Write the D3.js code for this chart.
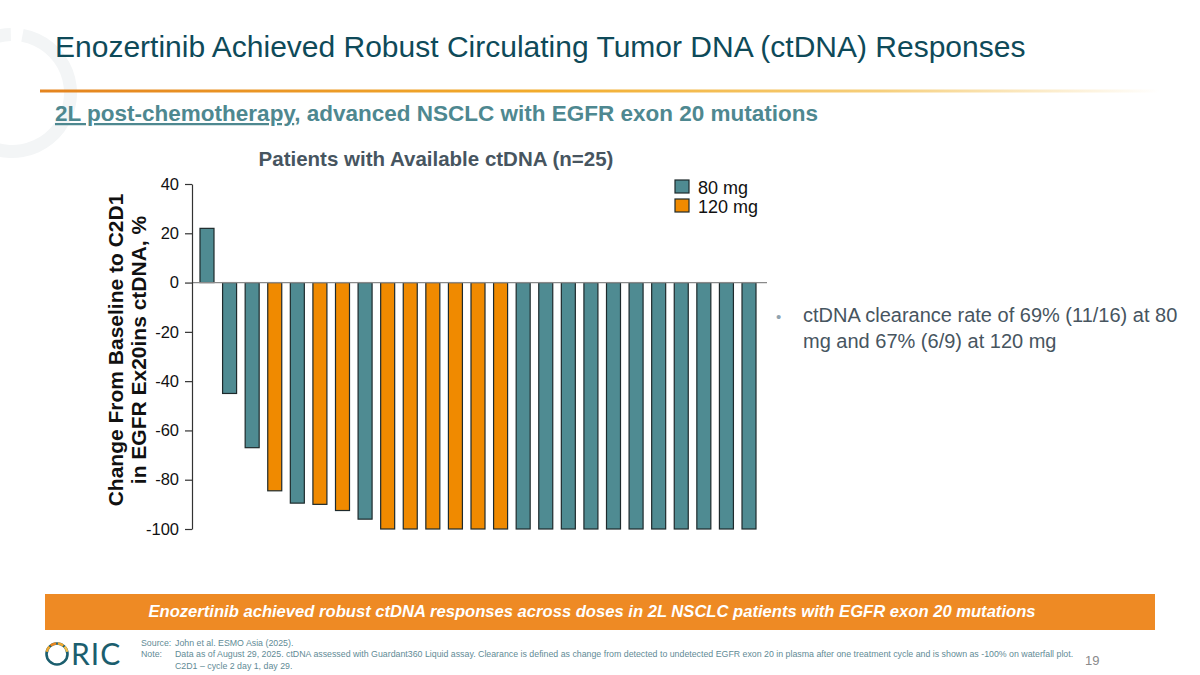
<!DOCTYPE html>
<html>
<head>
<meta charset="utf-8">
<script src="https://cdn.jsdelivr.net/npm/d3@7"></script>
<style>
  html, body { margin: 0; padding: 0; background: #fff; }
  svg { display: block; font-family: "Liberation Sans", Arial, sans-serif; }
</style>
</head>
<body>
<svg id="chart" width="1200" height="675"></svg>
<script>
// ---- Data ----
const patients = d3.range(1, 26).map(String);
const doses = ["80","80","80","120","80","120","120","80",
               "120","120","120","120","120","120",
               "80","80","80","80","80","80","80","80","80","80","80"];
const changes = [22, -45, -67, -84.5, -89.5, -90, -92.5, -96,
                 -100, -100, -100, -100, -100, -100,
                 -100, -100, -100, -100, -100, -100, -100, -100, -100, -100, -100];
const yTicks = [40, 20, 0, -20, -40, -60, -80, -100];
const legendLabels = ["80 mg", "120 mg"];
const doseKeys = ["80", "120"];

const svg = d3.select("#chart");

// background decorative ring
svg.append("path")
  .attr("d", d3.arc()({innerRadius: 52, outerRadius: 65, startAngle: 0.18, endAngle: Math.PI * 2 - 0.02}))
  .attr("transform", "translate(12,93)")
  .attr("fill", "#f3f5f6");

// Title
svg.append("text").attr("x", 55).attr("y", 57)
  .attr("font-size", 30).attr("fill", "#0e4a59")
  .text("Enozertinib Achieved Robust Circulating Tumor DNA (ctDNA) Responses");

// gradient rule
const defs = svg.append("defs");
const grad = defs.append("linearGradient").attr("id", "rule").attr("x1", "0").attr("x2", "1");
grad.append("stop").attr("offset", "0").attr("stop-color", "#e4841f");
grad.append("stop").attr("offset", "0.45").attr("stop-color", "#f2ac2c");
grad.append("stop").attr("offset", "0.75").attr("stop-color", "#f6cf7c");
grad.append("stop").attr("offset", "1").attr("stop-color", "#ffffff");
svg.append("rect").attr("x", 40).attr("y", 89.5).attr("width", 1120).attr("height", 3).attr("fill", "url(#rule)");

// Subtitle
const sub = svg.append("text").attr("x", 55).attr("y", 121)
  .attr("font-size", 22.5).attr("font-weight", "bold").attr("fill", "#4e8890");
sub.append("tspan").attr("text-decoration", "underline").text("2L post-chemotherapy");
sub.append("tspan").text(", advanced NSCLC with EGFR exon 20 mutations");

// Chart title
svg.append("text").attr("x", 436).attr("y", 166).attr("text-anchor", "middle")
  .attr("font-size", 20.5).attr("font-weight", "bold").attr("fill", "#47555f")
  .text("Patients with Available ctDNA (n=25)");

// Scales
const y = d3.scaleLinear().domain([-100, 40]).range([529, 184]);
const x = d3.scaleBand().domain(patients).range([192, 764]).paddingInner(0.38).paddingOuter(0.354);
const color = d3.scaleOrdinal().domain(doseKeys).range(["#4f8b92", "#f08a00"]);

// Bars
const g = svg.append("g");
g.selectAll("rect.bar").data(patients).join("rect")
  .attr("class", "bar")
  .attr("x", d => x(d))
  .attr("width", x.bandwidth())
  .attr("y", (d, i) => y(Math.max(0, changes[i])))
  .attr("height", (d, i) => Math.abs(y(changes[i]) - y(0)))
  .attr("fill", (d, i) => color(doses[i]))
  .attr("stroke", "#1e2a2c").attr("stroke-width", 1.2);

// zero line
svg.append("line").attr("x1", 192).attr("x2", 767).attr("y1", y(0)).attr("y2", y(0))
  .attr("stroke", "#8a8a8a").attr("stroke-width", 1.2);

// Y axis
const yAxis = svg.append("g").attr("transform", "translate(192,0)")
  .call(d3.axisLeft(y).tickValues(yTicks).tickFormat(d => String(d)).tickSize(7).tickPadding(6).tickSizeOuter(0));
yAxis.select(".domain").attr("stroke", "#333").attr("stroke-width", 1.2);
yAxis.selectAll(".tick line").attr("stroke", "#333").attr("stroke-width", 1.2);
yAxis.selectAll(".tick text").attr("font-size", 16.5).attr("fill", "#111")
  .attr("font-family", "Liberation Sans, Arial, sans-serif");

// Y axis label
const yl = svg.append("text").attr("transform", "translate(123,350) rotate(-90)")
  .attr("text-anchor", "middle").attr("font-size", 21).attr("font-weight", "bold").attr("fill", "#111");
yl.append("tspan").attr("x", 0).attr("dy", 0).text("Change From Baseline to C2D1");
yl.append("tspan").attr("x", 0).attr("dy", 23).text("in EGFR Ex20ins ctDNA, %");

// Legend
const lg = svg.append("g").attr("transform", "translate(675,180)");
legendLabels.forEach((lab, i) => {
  lg.append("rect").attr("x", 0).attr("y", i * 19).attr("width", 14).attr("height", 13)
    .attr("fill", color(doseKeys[i])).attr("stroke", "#1e2a2c").attr("stroke-width", 1.2);
  lg.append("text").attr("x", 23).attr("y", i * 19 + 13.5).attr("font-size", 18).attr("fill", "#111").text(lab);
});

// Bullet text
svg.append("text").attr("x", 776).attr("y", 322).attr("font-size", 15).attr("fill", "#8fa3b0").text("•");
const bt = svg.append("text").attr("font-size", 20).attr("fill", "#47555f");
bt.append("tspan").attr("x", 803).attr("y", 322).text("ctDNA clearance rate of 69% (11/16) at 80");
bt.append("tspan").attr("x", 803).attr("y", 348).text("mg and 67% (6/9) at 120 mg");

// Banner
svg.append("rect").attr("x", 45).attr("y", 594).attr("width", 1110).attr("height", 36).attr("fill", "#ee8a24");
svg.append("text").attr("x", 592).attr("y", 617).attr("text-anchor", "middle")
  .attr("font-size", 16.6).attr("font-weight", "bold").attr("font-style", "italic").attr("fill", "#fff")
  .text("Enozertinib achieved robust ctDNA responses across doses in 2L NSCLC patients with EGFR exon 20 mutations");

// Footer notes
const fn = svg.append("g").attr("font-size", 8.8).attr("fill", "#5f8b96");
fn.append("text").attr("x", 141).attr("y", 646).text("Source:");
fn.append("text").attr("x", 175).attr("y", 646).text("John et al. ESMO Asia (2025).");
fn.append("text").attr("x", 141).attr("y", 657).text("Note:");
fn.append("text").attr("x", 175).attr("y", 657).text("Data as of August 29, 2025. ctDNA assessed with Guardant360 Liquid assay. Clearance is defined as change from detected to undetected EGFR exon 20 in plasma after one treatment cycle and is shown as -100% on waterfall plot.");
fn.append("text").attr("x", 175).attr("y", 669).text("C2D1 – cycle 2 day 1, day 29.");

// Page number
svg.append("text").attr("x", 1085).attr("y", 665).attr("font-size", 13).attr("fill", "#8a8a8a").text("19");

// Logo
const logo = svg.append("g").attr("transform", "translate(57,654)");
logo.append("circle").attr("r", 10.5).attr("fill", "none").attr("stroke", "#1b5e6e").attr("stroke-width", 2.6);
const arcGen = d3.arc().innerRadius(9.2).outerRadius(11.8);
[[-1.35, -0.8, "#f0a830"], [-0.65, -0.08, "#e8861f"], [0.08, 0.65, "#f0a830"], [0.8, 1.35, "#f5c04a"]].forEach(a => {
  logo.append("path").attr("d", arcGen({startAngle: a[0], endAngle: a[1]})).attr("fill", a[2]);
});
svg.append("text").attr("x", 71).attr("y", 665).attr("font-size", 30).attr("fill", "#1b5e6e")
  .attr("font-family", "Lato, 'Liberation Sans', sans-serif").attr("letter-spacing", 1).text("RIC");
</script>
</body>
</html>
